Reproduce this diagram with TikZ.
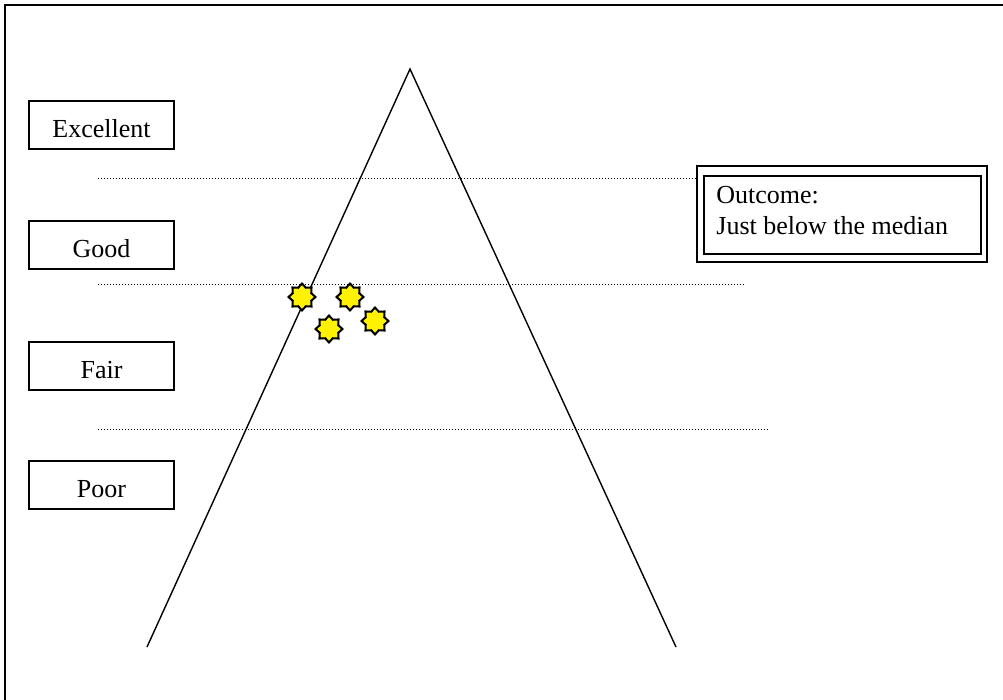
\documentclass[tikz,border=0pt]{standalone}
\usepackage{fontspec}
\setmainfont{Liberation Serif}
\usetikzlibrary{shapes.geometric}
\begin{document}
\begin{tikzpicture}[x=0.5pt,y=-0.5pt,
    level/.style={draw, line width=0.8pt, minimum width=72.5pt, minimum height=24pt, inner sep=0pt, text height=12.5pt, text depth=0pt, font=\fontsize{13}{15}\selectfont},
    divider/.style={line width=0.5pt, dash pattern=on 0.5pt off 1pt},
    scorestar/.style={star, star points=8, star point ratio=1.35, draw, fill=yellow, line width=1pt, minimum size=13.5pt, inner sep=0pt}]
        \useasboundingbox (0,0) rectangle (1003,700);

        % Cornice esterna
        \draw[line width=1pt] (5,720) -- (5,5) -- (1020,5);

        % Piramide
        \coordinate (apex) at (410,69);
        \coordinate (baseL) at (147,647);
        \coordinate (baseR) at (676,647);
        \draw[line width=0.7pt] (baseL) -- (apex) -- (baseR);

        % Livelli
        \node[level] (excellent) at (101.5,125) {Excellent};
        \node[level] (good) at (101.5,245) {Good};
        \node[level] (fair) at (101.5,366) {Fair};
        \node[level] (poor) at (101.5,485) {Poor};

        % Riquadro del risultato
        \draw[line width=0.7pt] (697,166) rectangle (987,262);
        \draw[line width=1pt] (704,176) rectangle (981,254);
        \node[anchor=west, align=left, inner sep=0pt, font=\fontsize{13}{15.5}\selectfont] (outcome) at (716,211) {Outcome:\\Just below the median};

        % Linee tratteggiate tra i livelli
        \draw[divider] (98,179) -- (697,179);
        \draw[divider] (98,285) -- (745,285);
        \draw[divider] (98,430) -- (769,430);

        % Stelle dei punteggi
        \foreach \sx/\sy [count=\i] in {302/297, 350/297, 329/329, 375/321}
            \node[scorestar] (star\i) at (\sx,\sy) {};
\end{tikzpicture}
\end{document}
